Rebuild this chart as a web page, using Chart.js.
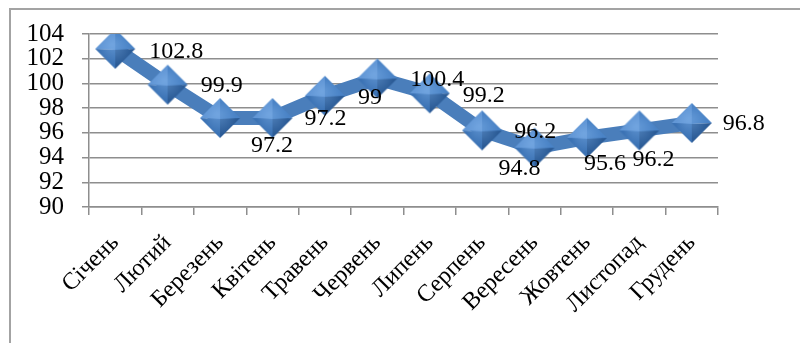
<!DOCTYPE html>
<html>
<head>
<meta charset="utf-8">
<script src="https://cdn.jsdelivr.net/npm/chart.js@4/dist/chart.umd.min.js"></script>
<style>
  html, body { margin: 0; padding: 0; background: #fff; }
  #wrap { width: 800px; height: 343px; position: relative; }
</style>
</head>
<body>
<div id="wrap"><canvas id="Index-Chart" width="800" height="343"></canvas></div>
<script>
const months = ['Січень', 'Лютий', 'Березень', 'Квітень', 'Травень', 'Червень',
  'Липень', 'Серпень', 'Вересень', 'Жовтень', 'Листопад', 'Грудень'];
const values = [102.8, 99.9, 97.2, 97.2, 99, 100.4, 99.2, 96.2, 94.8, 95.6, 96.2, 96.8];
const yTicks = [90, 92, 94, 96, 98, 100, 102, 104];

// where each value label sits relative to its marker (px)
const labelShift = [[61, 3], [54, 1], [52, 28], [53, 1], [45, 2], [60, 1],
  [54, 2], [53, 1], [-15, 21], [18, 26], [14, 29], [52, 1]];

const serif = 'Liberation Serif';
const gridGray = '#8e8e8e';

// bevelled diamond marker
function makeDiamond(r) {
  const c = document.createElement('canvas');
  c.width = c.height = r * 2 + 2;
  const g = c.getContext('2d');
  const m = r + 1;
  const top = [m, m - r], right = [m + r, m], bottom = [m, m + r], left = [m - r, m];
  const ctr = [m, m + 1];
  function facet(a, b, col) {
    g.beginPath();
    g.moveTo(a[0], a[1]); g.lineTo(b[0], b[1]); g.lineTo(ctr[0], ctr[1]);
    g.closePath();
    g.fillStyle = col;
    g.fill();
  }
  facet(left, top, '#6297d6');
  facet(top, right, '#4a83c6');
  facet(left, bottom, '#3b72b4');
  facet(bottom, right, '#2b5b96');
  const grd = g.createRadialGradient(m - 3, m - 4, 1, m, m, r * 0.8);
  grd.addColorStop(0, 'rgba(130,180,235,0.45)');
  grd.addColorStop(1, 'rgba(130,180,235,0)');
  g.beginPath();
  g.moveTo(top[0], top[1]); g.lineTo(right[0], right[1]);
  g.lineTo(bottom[0], bottom[1]); g.lineTo(left[0], left[1]);
  g.closePath();
  g.fillStyle = grd;
  g.fill();
  return c;
}
const diamond = makeDiamond(20);

const frame = {
  id: 'frame',
  beforeDraw(chart) {
    const c = chart.ctx;
    c.save();
    c.strokeStyle = '#a3a3a3';
    c.lineWidth = 2;
    c.beginPath();
    c.moveTo(10, 343);
    c.lineTo(10, 9);
    c.lineTo(800, 9);
    c.stroke();
    c.restore();
  }
};

const valueLabels = {
  id: 'valueLabels',
  afterDatasetsDraw(chart) {
    const c = chart.ctx;
    const meta = chart.getDatasetMeta(0);
    c.save();
    c.font = '24px "' + serif + '"';
    c.fillStyle = '#000';
    c.textAlign = 'center';
    c.textBaseline = 'middle';
    meta.data.forEach((pt, i) => {
      c.fillText(String(values[i]), pt.x + labelShift[i][0], pt.y + labelShift[i][1]);
    });
    c.restore();
  }
};

const ctx = document.getElementById('Index-Chart').getContext('2d');
const indexChart = new Chart(ctx, {
  type: 'line',
  data: {
    labels: months,
    datasets: [{
      data: values,
      borderColor: '#4a7ebb',
      borderWidth: 14,
      borderJoinStyle: 'round',
      tension: 0,
      pointStyle: diamond,
      pointRadius: 20,
      pointHoverRadius: 20
    }]
  },
  options: {
    responsive: false,
    animation: false,
    events: [],
    layout: { padding: { top: 24, right: 82, left: 0, bottom: 0 } },
    plugins: {
      legend: { display: false },
      tooltip: { enabled: false }
    },
    scales: {
      y: {
        min: 90,
        max: 104,
        afterFit(scale) { scale.width = 89; },
        afterBuildTicks(scale) { scale.ticks = yTicks.map(v => ({ value: v })); },
        border: { display: true, color: gridGray, width: 1.5 },
        grid: { color: gridGray, lineWidth: 1.5, tickLength: 7 },
        ticks: { font: { family: serif, size: 25 }, color: '#000', padding: 18, autoSkip: false }
      },
      x: {
        offset: true,
        afterFit(scale) { scale.height = 136; },
        border: { display: true, color: gridGray, width: 1.5 },
        grid: { offset: true, drawOnChartArea: false, color: gridGray, lineWidth: 1.5, tickLength: 8 },
        ticks: {
          font: { family: serif, size: 24 },
          color: '#000',
          minRotation: 45,
          maxRotation: 45,
          padding: 14,
          autoSkip: false
        }
      }
    }
  },
  plugins: [frame, valueLabels]
});
</script>
</body>
</html>
